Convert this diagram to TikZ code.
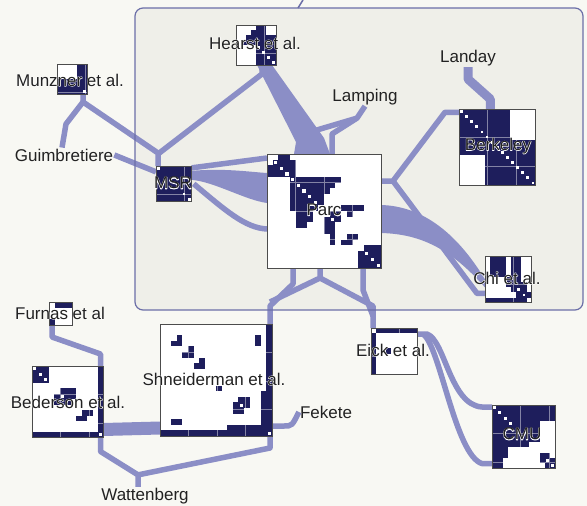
\documentclass[tikz,border=0pt]{standalone}
\usepackage{fontspec}
\setmainfont{Liberation Sans}
\usetikzlibrary{calc}

\definecolor{paperc}{RGB}{248,248,243}
\definecolor{clusterc}{RGB}{239,239,233}
\definecolor{framec}{RGB}{108,111,168}
\definecolor{linkc}{RGB}{139,142,198}
\definecolor{navyc}{RGB}{30,30,92}
\definecolor{txtc}{RGB}{34,34,34}

\tikzset{
  mat/.style={inner sep=0pt, outer sep=0pt, anchor=north west},
  link/.style={draw=linkc, line width=5.5pt, line join=round},
  band/.style={fill=linkc},
  lbl/.style={font=\fontsize{17}{20}\selectfont, text=txtc, inner sep=1pt},
  cellbg/.style={fill=white},
  cellc/.style={fill=navyc},
  cellgrid/.style={draw=white, draw opacity=0.45, line width=0.5pt},
  celldot/.style={fill=white},
  cellframe/.style={draw=black!70, line width=0.8pt}
}

% cells of one matrix: #1 node, #2 size n, #3 cell width, #4 blocks r1/r2/c1/c2, #5 diagonal dots
\newcommand{\mcells}[5]{%
  \begin{scope}[shift={(#1.north west)}, x=#3pt, y=-#3pt]
    \fill[cellbg] (0,0) rectangle (#2,#2);
    \foreach \ra/\rb/\ca/\cb in {#4} \fill[cellc] (\ca,\ra) rectangle (\cb+1,\rb+1);
    \draw[cellgrid] (0,0) grid (#2,#2);
    \foreach \i in {#5} \fill[celldot] (\i+0.22,\i+0.22) rectangle (\i+0.78,\i+0.78);
    \draw[cellframe] (0,0) rectangle (#2,#2);
  \end{scope}}
% label text on a white halo (stroked copy under the filled one)
\newcommand{\lab}[1]{\rlap{\special{pdf:literal direct 1 Tr 0.9 w 1 1 1 RG 1 j}#1\special{pdf:literal direct 0 Tr}}#1}

\begin{document}
\begin{tikzpicture}[x=1pt,y=-1pt]
\useasboundingbox (0,0) rectangle (587,506);
\fill[paperc] (0,0) rectangle (587,506);

%Shape: Rounded Rectangle
\node[mat, fill=clusterc, rounded corners=8pt, minimum width=448, minimum height=302] (cluster) at (135,8) {};
\coordinate (offtop) at (303,0);

%Matrices (frames only, cells drawn later)
\node[mat, minimum width=40, minimum height=40] (hearst) at (236,25) {};
\node[mat, minimum width=35.7, minimum height=35.7] (msr) at (156,166) {};
\node[mat, minimum width=30, minimum height=30] (munzner) at (57,64) {};
\node[mat, minimum width=23, minimum height=23] (furnas) at (49,302) {};
\node[mat, minimum width=71.5, minimum height=71.5] (bederson) at (32,366) {};
\node[mat, minimum width=112, minimum height=112] (shneid) at (160,324) {};
\node[mat, minimum width=45.9, minimum height=45.9] (eick) at (371,328) {};
\node[mat, minimum width=63.6, minimum height=63.6] (cmu) at (492,405) {};
\node[mat, minimum width=46.8, minimum height=46.8] (chi) at (485,256) {};
\node[mat, minimum width=76.5, minimum height=76.5] (berkeley) at (459,109) {};
\node[mat, minimum width=114, minimum height=114] (parc) at (267,154) {};

% Text Node
\node[lbl] (landay) at (468,58) {Landay};
\node[lbl] (lamping) at (365,97) {Lamping};
\node[lbl] (guimb) at (64,155) {Guimbretiere};
\node[lbl] (fekete) at (326,412) {Fekete};
\node[lbl] (watt) at (145,496) {Wattenberg};

%Links
\draw[link] ($(munzner.south east)+(-4,0)$) -- ++(0,8) coordinate (mz) -- ($(msr.north west)+(2,-13)$) -- ($(msr.north west)+(2,0)$);
\draw[link] (mz) -- (66,124) -- ($(guimb.north)+(-2,0)$);
\draw[link] (guimb.east) -- ($(msr.west)+(0,-12)$);
\draw[link] ($(hearst.south)+(6,0)$) -- ++(0,9) -- ($(msr.north west)+(2,-12)$);
\fill[band] ($(hearst.south)+(1,0)$) -- ($(hearst.south)+(16,0)$) -- (324,138) -- ($(parc.north)+(6,0)$) -- ($(parc.north)+(-30,0)$) -- (296,142) -- cycle;
\draw[link] (lamping.south) -- ++(-8,12) coordinate (lp) -- (300,135) -- ($(parc.north)+(-24,0)$);
\draw[link] (lp) -- (332,134) -- ($(parc.north)+(8,0)$);
\draw[link, line width=9pt] (landay.south) -- ++(0,12) -- ($(berkeley.north)+(-7,-10)$) -- ($(berkeley.north)+(-7,0)$);
\draw[link] ($(parc.east)+(0,-30)$) -- ++(12,0) coordinate (pj) -- ($(berkeley.west)+(-14,-35)$) -- ($(berkeley.west)+(0,-35)$);
\draw[link] (pj) -- ($(chi.west)+(-8,14)$) -- ($(chi.west)+(0,14)$);
\fill[band] ($(parc.east)+(0,-6)$) .. controls (420,206) and (455,230) .. (chi.west) -- ($(chi.west)+(0,8)$) .. controls (450,248) and (420,234) .. ($(parc.east)+(0,22)$) -- cycle;
\draw[link] ($(msr.east)+(0,-16)$) -- ($(parc.west)+(0,-53)$);
\fill[band] ($(msr.east)+(0,-13)$) .. controls (225,168) and (250,172) .. ($(parc.west)+(0,-38)$) -- ($(parc.west)+(0,-8)$) .. controls (245,200) and (215,182) .. ($(msr.east)+(0,-4)$) -- cycle;
\draw[link] ($(msr.east)+(2,0)$) .. controls (225,210) and (245,228) .. ($(parc.west)+(0,18)$);
\draw[link] ($(parc.south)+(-31,0)$) -- ++(0,16) -- ($(shneid.north east)+(-2,-18)$) -- ($(shneid.north east)+(-2,0)$);
\draw[link] ($(parc.south)+(-4,0)$) -- ++(0,10) coordinate (pb) -- ($(shneid.north east)+(-2,-22)$);
\draw[link] (pb) -- ($(eick.north west)+(2,-22)$) -- ($(eick.north west)+(2,0)$);
\draw[link] ($(parc.south)+(39,0)$) -- ++(0,22) -- ($(eick.north west)+(2,-12)$);
\draw[link] ($(eick.north east)+(0,6)$) -- ++(10,0) .. controls (445,340) and (450,405) .. ($(cmu.north west)+(-10,2)$) -- ($(cmu.north west)+(0,2)$);
\draw[link] ($(eick.north east)+(6,6)$) .. controls (440,345) and (455,455) .. ($(cmu.south west)+(-10,-5)$) -- ($(cmu.south west)+(0,-5)$);
\draw[link] ($(furnas.south west)+(3,0)$) -- ++(0,12) -- ($(bederson.north east)+(-3,-12)$) -- ($(bederson.north east)+(-3,0)$);
\draw[link, line width=13pt] ($(bederson.south east)+(0,-8)$) -- ($(shneid.south west)+(0,-8)$);
\draw[link] ($(bederson.south east)+(-3,0)$) -- ++(0,14) -- ($(watt.north)+(-7,-12)$) coordinate (wj) -- ($(watt.north)+(-7,0)$);
\draw[link] ($(shneid.south east)+(-2,0)$) -- ++(0,12) -- (wj);
\draw[link] ($(shneid.south east)+(0,-10)$) -- ++(12,0) .. controls (292,426) .. (fekete.west);
\draw[framec, line width=1.5pt] ($(cluster.north west)+(163,0)$) .. controls (300,4) .. (offtop);

%Shape: Rounded Rectangle (frame over links)
\draw[framec, line width=1.2pt, rounded corners=8pt] (cluster.north west) rectangle (cluster.south east);

%Matrix cells
\mcells{hearst}{8}{5.0}{0/0/4/5, 1/1/3/5, 2/2/2/7, 3/3/1/7, 4/7/4/7}{4,5,6,7}
\mcells{msr}{7}{5.1}{0/6/0/6}{0,5,6}
\mcells{munzner}{6}{5.0}{0/2/4/5, 3/5/0/5}{5}
\mcells{furnas}{4}{5.75}{0/0/1/3, 3/3/0/0}{0}
\mcells{bederson}{13}{5.5}{0/2/0/2, 0/11/12/12, 4/4/5/7, 5/5/4/7, 6/6/4/6, 8/8/9/10, 9/9/8/9, 12/12/0/12}{0,1,2,5,12}
\mcells{shneid}{20}{5.6}{2/2/3/3, 3/3/2/3, 4/4/5/5, 5/5/4/5, 6/6/7/7, 7/7/6/7, 2/3/17/17, 11/11/10/10, 13/13/14/15, 14/14/13/15, 15/15/13/14, 12/18/18/18, 18/18/12/17, 17/17/2/3, 0/19/19/19, 19/19/0/19}{14,19}
\mcells{eick}{9}{5.1}{0/0/1/8, 1/8/0/0, 4/4/3/3}{0}
\mcells{cmu}{12}{5.3}{0/2/0/11, 3/6/0/8, 7/7/0/6, 8/9/0/2, 10/11/0/1, 9/9/9/10, 10/10/9/11, 11/11/10/11}{0,1,2,3,10,11}
\mcells{chi}{9}{5.2}{0/3/1/3, 0/4/5/6, 4/4/4/6, 5/5/4/7, 6/6/5/7, 7/7/6/8, 8/8/0/7}{0,6,7,8}
\mcells{berkeley}{15}{5.1}{0/5/0/9, 6/8/0/14, 9/14/5/14}{0,1,...,14}
\mcells{parc}{20}{5.7}{0/0/2/3, 1/1/1/4, 2/3/0/4, 4/4/4/12, 5/5/4/11, 6/6/4/10, 7/8/4/9, 9/9/4/8, 9/9/13/16, 10/10/5/7, 10/10/11/12, 10/10/14/14, 11/11/5/7, 11/11/10/12, 12/12/5/6, 12/13/10/11, 14/15/11/11, 14/14/14/15, 15/15/13/14, 16/16/17/19, 17/19/16/19}{1,2,...,11,17,18,19}

% Text Node
\node[lbl] (hearstLbl) at (255,43) {\lab{Hearst et al.}};
\node[lbl] (msrLbl) at (173,183) {\lab{MSR}};
\node[lbl] (munznerLbl) at (70,80) {\lab{Munzner et al.}};
\node[lbl] (furnasLbl) at (60,313) {\lab{Furnas et al}};
\node[lbl] (bedersonLbl) at (68,402) {\lab{Bederson et al.}};
\node[lbl] (shneidLbl) at (214,379) {\lab{Shneiderman et al.}};
\node[lbl] (eickLbl) at (393,350) {\lab{Eick et al.}};
\node[lbl] (cmuLbl) at (522,434) {\lab{CMU}};
\node[lbl] (chiLbl) at (507,278) {\lab{Chi et al.}};
\node[lbl] (berkeleyLbl) at (498,146) {\lab{Berkeley}};
\node[lbl] (parcLbl) at (324,210) {\lab{Parc}};

\end{tikzpicture}
\end{document}
